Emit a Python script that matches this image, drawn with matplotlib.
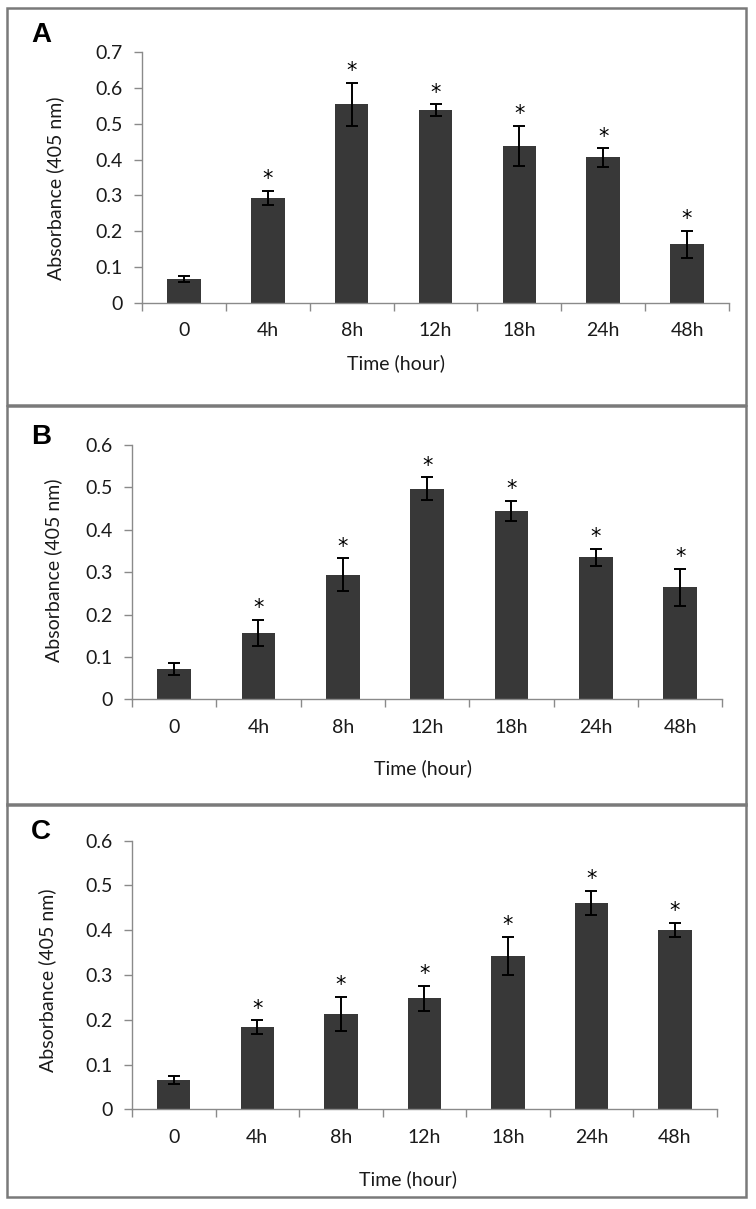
import numpy as np
import matplotlib
matplotlib.use("Agg")
import matplotlib.pyplot as plt
from matplotlib.patches import Rectangle

plt.rcParams['font.family'] = ['Lato', 'DejaVu Sans']

categories = ["0", "4h", "8h", "12h", "18h", "24h", "48h"]

values_a = [0.067, 0.293, 0.555, 0.539, 0.438, 0.406, 0.163]
errors_a = [0.009, 0.020, 0.060, 0.016, 0.056, 0.026, 0.038]
stars_a = [False, True, True, True, True, True, True]

values_b = [0.071, 0.156, 0.294, 0.497, 0.445, 0.335, 0.264]
errors_b = [0.014, 0.031, 0.039, 0.027, 0.024, 0.020, 0.044]
stars_b = [False, True, True, True, True, True, True]

values_c = [0.0655, 0.184, 0.2135, 0.248, 0.343, 0.4615, 0.4005]
errors_c = [0.0085, 0.015, 0.038, 0.028, 0.042, 0.027, 0.016]
stars_c = [False, True, True, True, True, True, True]

W, H = 756, 1209
fig = plt.figure(figsize=(W / 100, H / 100), dpi=100)
fig.patch.set_facecolor('white')

def fx(x):
    return x / W

def fy(y):
    return 1 - y / H

panels = [
    dict(letter="A", vals=values_a, errs=errors_a, stars=stars_a, ymax=0.7,
         ax=(142, 729, 52.3, 302.7), box=(7, 8, 746, 405), letter_xy=(41, 35),
         xlabel_xy=(396, 363), ylabel_xy=(55, 188)),
    dict(letter="B", vals=values_b, errs=errors_b, stars=stars_b, ymax=0.6,
         ax=(132, 722.3, 445, 699.3), box=(7, 406, 746, 805), letter_xy=(41, 437),
         xlabel_xy=(423, 768), ylabel_xy=(53, 570)),
    dict(letter="C", vals=values_c, errs=errors_c, stars=stars_c, ymax=0.6,
         ax=(132, 716.7, 840.7, 1109.3), box=(7, 804, 746, 1197), letter_xy=(41, 832),
         xlabel_xy=(408, 1179), ylabel_xy=(47, 980)),
]

axis_gray = '#8a8a8a'
bar_color = '#383838'
txt_color = '#1a1a1a'
fs = 14

for p in panels:
    bx0, by0, bx1, by1 = p['box']
    fig.patches.append(Rectangle((fx(bx0), fy(by1)), fx(bx1 - bx0), (by1 - by0) / H,
                                 transform=fig.transFigure, fill=False,
                                 edgecolor='#7a7a7a', linewidth=1.8, zorder=0))
    l, r, t, b = p['ax']
    ax = fig.add_axes([fx(l), fy(b), fx(r - l), (b - t) / H])
    x = np.arange(len(categories))
    ax.bar(x, p['vals'], width=0.4, color=bar_color, zorder=2)
    ax.errorbar(x, p['vals'], yerr=p['errs'], fmt='none', ecolor='black',
                elinewidth=1.4, capsize=4, capthick=1.4, zorder=3)
    for xi, v, e, s in zip(x, p['vals'], p['errs'], p['stars']):
        if s:
            ax.annotate('*', xy=(xi, v + e), xytext=(0, 4), textcoords='offset points',
                        ha='center', va='baseline', fontsize=15, color='black',
                        family='DejaVu Sans')
    ax.set_xlim(-0.5, len(categories) - 0.5)
    ax.set_ylim(0, p['ymax'])
    ax.set_yticks(np.round(np.arange(0, p['ymax'] + 0.001, 0.1), 1))
    ax.set_yticklabels(['0'] + [f"{v:.1f}" for v in np.arange(0.1, p['ymax'] + 0.001, 0.1)])
    ax.set_xticks(np.arange(-0.5, len(categories), 1))
    ax.set_xticklabels([])
    ax.set_xticks(x, minor=True)
    ax.set_xticklabels(categories, minor=True)
    ax.tick_params(axis='x', which='major', length=6, width=1, color=axis_gray, direction='out')
    ax.tick_params(axis='x', which='minor', length=0, pad=14, labelsize=fs,
                   labelcolor=txt_color)
    ax.tick_params(axis='y', length=6, width=1, color=axis_gray, direction='out', pad=8,
                   labelsize=fs, labelcolor=txt_color)
    for sp in ['top', 'right']:
        ax.spines[sp].set_visible(False)
    for sp in ['left', 'bottom']:
        ax.spines[sp].set_color(axis_gray)
        ax.spines[sp].set_linewidth(1)
    fig.text(fx(p['ylabel_xy'][0]), fy(p['ylabel_xy'][1]), 'Absorbance (405 nm)',
             rotation=90, ha='center', va='center', fontsize=fs, color=txt_color)
    fig.text(fx(p['xlabel_xy'][0]), fy(p['xlabel_xy'][1]), 'Time (hour)', ha='center',
             va='center', fontsize=fs, color=txt_color)
    fig.text(fx(p['letter_xy'][0]), fy(p['letter_xy'][1]), p['letter'], ha='center',
             va='center', fontsize=20, fontweight='bold', family='Liberation Sans')

fig.savefig('out.png', dpi=100, facecolor='white')
